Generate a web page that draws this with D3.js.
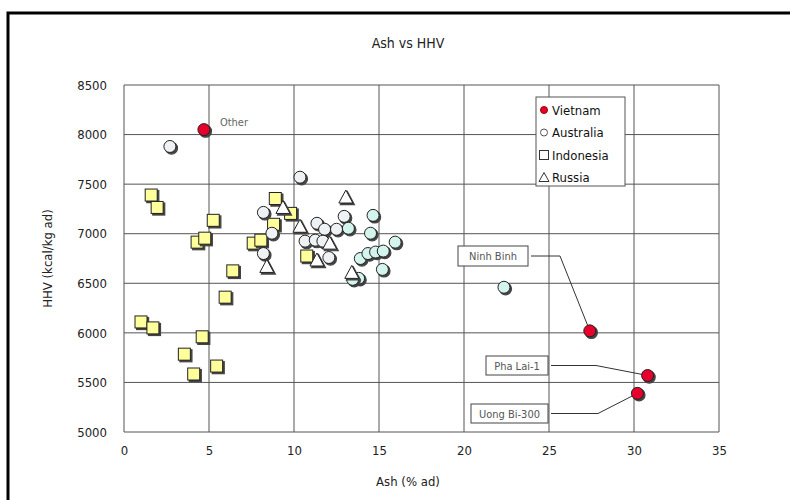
<!DOCTYPE html>
<html>
<head>
<meta charset="utf-8">
<script src="https://cdn.jsdelivr.net/npm/d3@7"></script>
<style>
  body { margin: 0; background: #fff; }
  text { font-family: "DejaVu Sans Condensed", "DejaVu Sans", sans-serif; }
</style>
</head>
<body>
<svg id="chart" width="790" height="500"></svg>
<script>
// Vietnam
const vietnamNames = ["Other", "Ninh Binh", "Pha Lai-1", "Uong Bi-300"];
const vietnamAsh = [4.7, 27.4, 30.8, 30.2];
const vietnamHHV = [8050, 6020, 5570, 5390];

// Australia
const australiaAsh = [2.7, 10.35, 22.35, 8.2, 8.7, 8.2, 11.35, 12.95, 14.65, 11.8, 12.5, 13.2,
    10.65, 11.25, 11.7, 14.5, 15.95, 12.05, 13.9, 14.35, 14.8, 15.25, 15.2, 13.8, 13.45];
const australiaHHV = [7880, 7570, 6460, 7215, 7005, 6800, 7105, 7175, 7185, 7045, 7045, 7055,
    6925, 6935, 6925, 7005, 6915, 6760, 6750, 6800, 6815, 6825, 6640, 6550, 6540];

// Indonesia
const indonesiaAsh = [1.6, 1.95, 5.25, 4.3, 4.75, 8.9, 9.8, 8.8, 7.6, 8.05, 6.4, 5.95, 10.75,
    1.0, 1.7, 4.6, 3.55, 5.45, 4.1];
const indonesiaHHV = [7390, 7265, 7135, 6915, 6955, 7355, 7205, 7095, 6905, 6935, 6625, 6360, 6775,
    6110, 6050, 5960, 5785, 5665, 5585];

// Russia
const russiaAsh = [9.35, 10.35, 8.4, 13.05, 12.1, 11.35, 13.4];
const russiaHHV = [7265, 7075, 6670, 7370, 6905, 6735, 6610];

const xTicks = [0, 5, 10, 15, 20, 25, 30, 35];
const yTicks = [5000, 5500, 6000, 6500, 7000, 7500, 8000, 8500];

const svg = d3.select("#chart");
const plot = { left: 124, top: 85, right: 719, bottom: 432 };

svg.append("rect")
    .attr("x", 8).attr("y", 13)
    .attr("width", 800).attr("height", 500)
    .attr("fill", "#fff")
    .attr("stroke", "#000")
    .attr("stroke-width", 3);

const x = d3.scaleLinear().domain([0, 35]).range([plot.left, plot.right]);
const y = d3.scaleLinear().domain([5000, 8500]).range([plot.bottom, plot.top]);

// grid
svg.append("g")
    .selectAll("line")
    .data(xTicks)
    .join("line")
    .attr("x1", d => x(d)).attr("x2", d => x(d))
    .attr("y1", plot.top).attr("y2", plot.bottom)
    .attr("stroke", "#555").attr("stroke-width", 1);
svg.append("g")
    .selectAll("line")
    .data(yTicks)
    .join("line")
    .attr("x1", plot.left).attr("x2", plot.right)
    .attr("y1", d => y(d)).attr("y2", d => y(d))
    .attr("stroke", "#555").attr("stroke-width", 1);

// axes (labels only)
const xAxis = svg.append("g")
    .attr("transform", `translate(0, ${plot.bottom})`)
    .call(d3.axisBottom(x).tickValues(xTicks).tickSize(0).tickPadding(14));
xAxis.select(".domain").remove();
xAxis.selectAll("text").style("font-size", "13px").attr("fill", "#222");

const yAxis = svg.append("g")
    .attr("transform", `translate(${plot.left}, 0)`)
    .call(d3.axisLeft(y).tickValues(yTicks).tickFormat(d3.format("d")).tickSize(0).tickPadding(17));
yAxis.select(".domain").remove();
yAxis.selectAll("text").style("font-size", "13px").attr("fill", "#222");

svg.append("text")
    .attr("x", 408).attr("y", 48)
    .attr("text-anchor", "middle")
    .style("font-size", "14px")
    .attr("fill", "#222")
    .text("Ash vs HHV");

svg.append("text")
    .attr("x", 408).attr("y", 486)
    .attr("text-anchor", "middle")
    .style("font-size", "13px")
    .attr("fill", "#222")
    .text("Ash (% ad)");

svg.append("text")
    .attr("transform", `translate(52, ${(plot.top + plot.bottom) / 2}) rotate(-90)`)
    .attr("text-anchor", "middle")
    .style("font-size", "13px")
    .attr("fill", "#222")
    .text("HHV (kcal/kg ad)");

// annotation leaders for Vietnam
const annotations = [
    { i: 1, bx: 458, by: 246, bw: 70, bh: 20, elbow: 560 },
    { i: 2, bx: 486, by: 356, bw: 62, bh: 19, elbow: 596 },
    { i: 3, bx: 471, by: 404, bw: 77, bh: 19, elbow: 598 }
];
annotations.forEach(a => {
    const px = x(vietnamAsh[a.i]), py = y(vietnamHHV[a.i]);
    const my = a.by + a.bh / 2;
    svg.append("path")
        .attr("d", `M${a.bx + a.bw + 3},${my} L${a.elbow},${my} L${px},${py}`)
        .attr("fill", "none").attr("stroke", "#333").attr("stroke-width", 1);
    svg.append("rect")
        .attr("x", a.bx).attr("y", a.by)
        .attr("width", a.bw).attr("height", a.bh)
        .attr("fill", "#fff").attr("stroke", "#444").attr("stroke-width", 1);
    svg.append("text")
        .attr("x", a.bx + a.bw / 2).attr("y", my + 4)
        .attr("text-anchor", "middle")
        .style("font-size", "11px")
        .attr("fill", "#555")
        .text(vietnamNames[a.i]);
});
svg.append("text")
    .attr("x", x(vietnamAsh[0]) + 16).attr("y", y(vietnamHHV[0]) - 4)
    .style("font-size", "11px")
    .attr("fill", "#666")
    .text(vietnamNames[0]);

// markers
const shapes = {
    circle: (g, cx, cy) => g.append("circle").attr("cx", cx).attr("cy", cy).attr("r", 6),
    square: (g, cx, cy) => g.append("rect").attr("x", cx - 6).attr("y", cy - 6).attr("width", 12).attr("height", 12),
    triangle: (g, cx, cy) => g.append("path").attr("d", `M${cx},${cy - 7} L${cx + 7},${cy + 6} L${cx - 7},${cy + 6} Z`)
};

function drawSeries(ashArr, hhvArr, shape, fill) {
    const g = svg.append("g");
    ashArr.forEach((a, i) => {
        const cx = x(a), cy = y(hhvArr[i]);
        shapes[shape](g, cx + 1.6, cy + 1.6)
            .attr("fill", "#444").attr("stroke", "#444").attr("stroke-width", 1.2);
        shapes[shape](g, cx, cy)
            .attr("fill", typeof fill === "function" ? fill(a) : fill)
            .attr("stroke", "#222").attr("stroke-width", 1);
    });
}

drawSeries(indonesiaAsh, indonesiaHHV, "square", "#ffff9c");
drawSeries(australiaAsh, australiaHHV, "circle", a => a > 13 ? "#d4f4ee" : "#eef2f4");
drawSeries(russiaAsh, russiaHHV, "triangle", "#fff");
drawSeries(vietnamAsh, vietnamHHV, "circle", "#e8002d");

// legend
const legend = svg.append("g").attr("transform", "translate(536, 97)");
legend.append("rect")
    .attr("width", 89).attr("height", 89)
    .attr("fill", "#fff").attr("stroke", "#555").attr("stroke-width", 1);
const legendItems = ["Vietnam", "Australia", "Indonesia", "Russia"];
legendItems.forEach((name, i) => {
    const ly = 13 + i * 22.5;
    const g = legend.append("g");
    if (i === 0) g.append("circle").attr("cx", 8).attr("cy", ly).attr("r", 3.5).attr("fill", "#e8002d").attr("stroke", "#900");
    if (i === 1) g.append("circle").attr("cx", 8).attr("cy", ly).attr("r", 3.5).attr("fill", "#fff").attr("stroke", "#555");
    if (i === 2) g.append("rect").attr("x", 3.5).attr("y", ly - 4.5).attr("width", 9).attr("height", 9).attr("fill", "#fff").attr("stroke", "#333");
    if (i === 3) g.append("path").attr("d", `M8,${ly - 5} L13,${ly + 4} L3,${ly + 4} Z`).attr("fill", "#fff").attr("stroke", "#333");
    legend.append("text")
        .attr("x", 16).attr("y", ly + 4.5)
        .style("font-size", "13px")
        .attr("fill", "#111")
        .text(name);
});
</script>
</body>
</html>
